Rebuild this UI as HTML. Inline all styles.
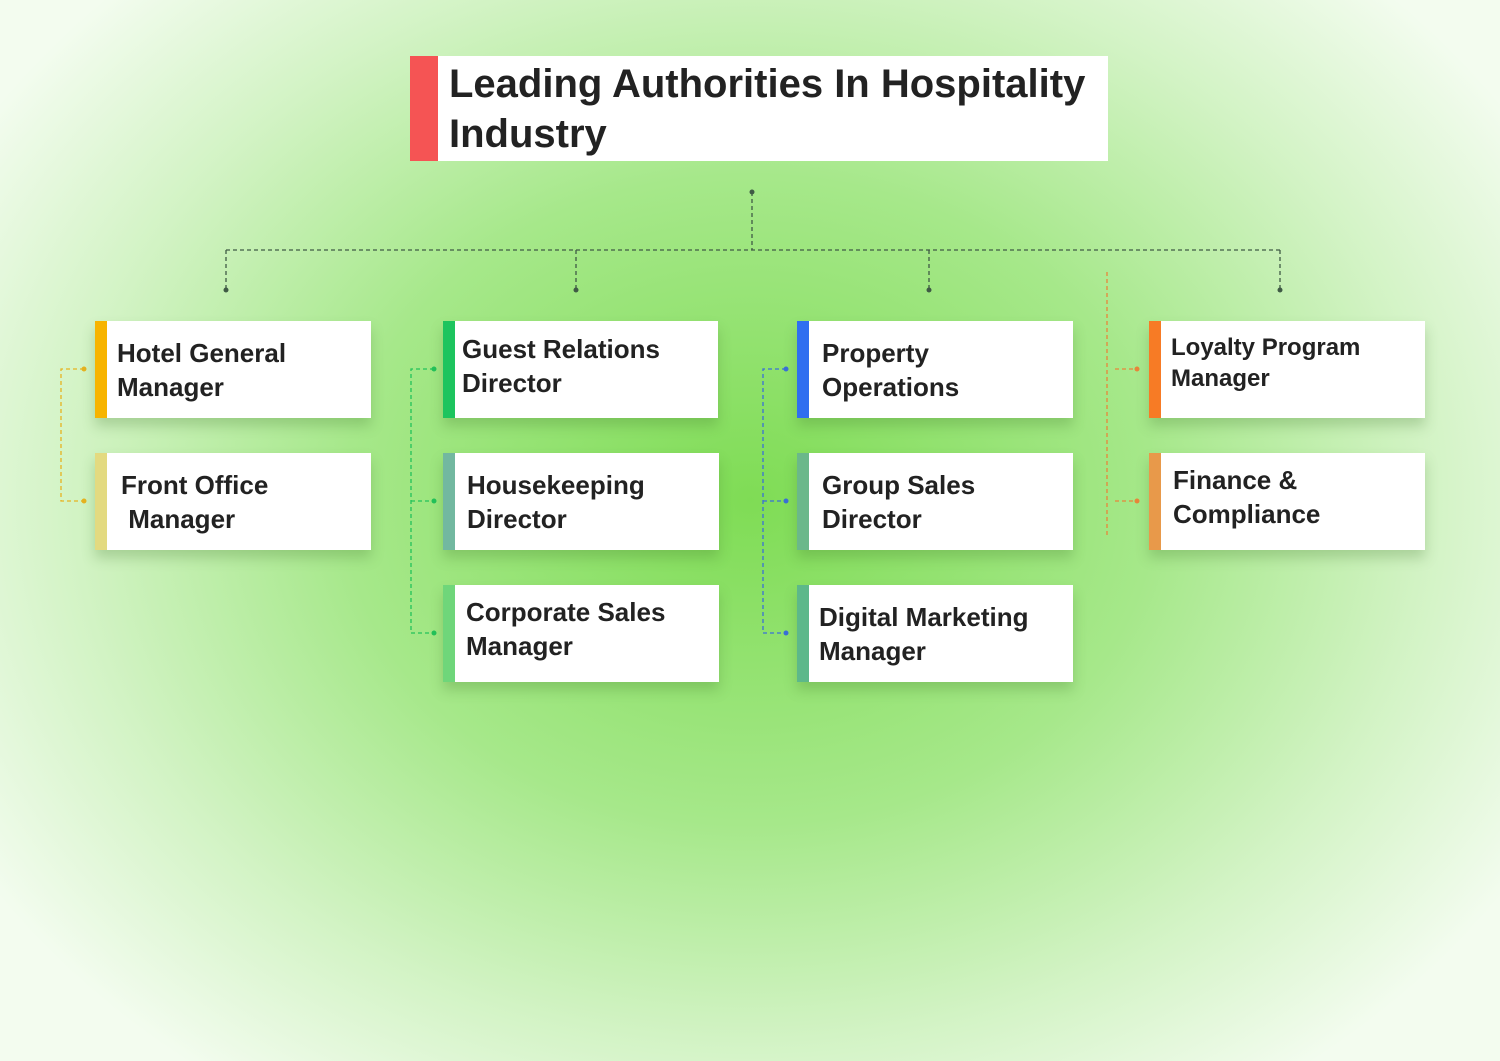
<!DOCTYPE html>
<html><head><style>
body{margin:0;width:1500px;height:1061px;overflow:hidden;font-family:"Liberation Sans",sans-serif;
background:radial-gradient(ellipse 900px 720px at 750px 500px,#7fdc55 0%,#a6e88a 45%,#d2f3c4 75%,#f3fcef 100%);}
.b{position:absolute;background:#fff;box-shadow:0 8px 12px rgba(60,110,40,.25);}
.b i{position:absolute;left:0;top:0;bottom:0;width:12px;}
.b span{position:absolute;left:22px;top:50%;transform:translateY(-50%);font-weight:bold;font-size:26px;line-height:34px;color:#222;}
svg{position:absolute;left:0;top:0}
</style></head><body>
<svg width="1500" height="1061">
<g fill="none" stroke="#3f5a45" stroke-width="1.3" stroke-dasharray="4 3">
<path d="M752 192V250M226 250H1280M226 250V290M576 250V290M929 250V290M1280 250V290"/></g>
<g fill="#3f5a45"><circle cx="752" cy="192" r="2.5"/><circle cx="226" cy="290" r="2.5"/><circle cx="576" cy="290" r="2.5"/><circle cx="929" cy="290" r="2.5"/><circle cx="1280" cy="290" r="2.5"/></g>
<g fill="none" stroke-width="1.3" stroke-dasharray="4 3">
<path stroke="#e6b320" d="M84 369H61V501H84"/>
<path stroke="#22c25a" d="M434 369H411V633H434M411 501H434"/>
<path stroke="#3a6fd8" d="M786 369H763V633H786M763 501H786"/>
<path stroke="#e8863a" d="M1107 272V535M1115 369H1137M1115 501H1137"/></g>
<g><circle cx="84" cy="369" r="2.5" fill="#e6b320"/><circle cx="84" cy="501" r="2.5" fill="#e6b320"/>
<circle cx="434" cy="369" r="2.5" fill="#22c25a"/><circle cx="434" cy="501" r="2.5" fill="#22c25a"/><circle cx="434" cy="633" r="2.5" fill="#22c25a"/>
<circle cx="786" cy="369" r="2.5" fill="#3a6fd8"/><circle cx="786" cy="501" r="2.5" fill="#3a6fd8"/><circle cx="786" cy="633" r="2.5" fill="#3a6fd8"/>
<circle cx="1137" cy="369" r="2.5" fill="#e8863a"/><circle cx="1137" cy="501" r="2.5" fill="#e8863a"/></g>
</svg>
<div class="b" style="left:410px;top:56px;width:698px;height:105px;box-shadow:none"><i style="width:28px;background:#f55454"></i><span style="left:39px;font-size:40px;line-height:50px;color:#222">Leading Authorities In Hospitality<br>Industry</span></div>

<div class="b" style="left:95px;top:321px;width:276px;height:97px"><i style="background:#f7b400"></i><span>Hotel General<br>Manager</span></div>
<div class="b" style="left:95px;top:453px;width:276px;height:97px"><i style="background:#e3da80"></i><span style="left:26px">Front Office<br>&nbsp;Manager</span></div>

<div class="b" style="left:443px;top:321px;width:275px;height:97px"><i style="background:#1dc45e"></i><span style="left:19px;top:46%">Guest Relations<br>Director</span></div>
<div class="b" style="left:443px;top:453px;width:276px;height:97px"><i style="background:#72b8a0"></i><span style="left:24px">Housekeeping<br>Director</span></div>
<div class="b" style="left:443px;top:585px;width:276px;height:97px"><i style="background:#6fd67a"></i><span style="left:23px;top:45%">Corporate Sales<br>Manager</span></div>

<div class="b" style="left:797px;top:321px;width:276px;height:97px"><i style="background:#2f6ef0"></i><span style="left:25px">Property<br>Operations</span></div>
<div class="b" style="left:797px;top:453px;width:276px;height:97px"><i style="background:#6bb88a"></i><span style="left:25px">Group Sales<br>Director</span></div>
<div class="b" style="left:797px;top:585px;width:276px;height:97px"><i style="background:#5db88a"></i><span style="left:22px">Digital Marketing<br>Manager</span></div>

<div class="b" style="left:1149px;top:321px;width:276px;height:97px"><i style="background:#f77b25"></i><span style="left:22px;font-size:24px;line-height:31px;top:43%">Loyalty Program<br>Manager</span></div>
<div class="b" style="left:1149px;top:453px;width:276px;height:97px"><i style="background:#e8994a"></i><span style="left:24px;top:45%">Finance &amp;<br>Compliance</span></div>
</body></html>
